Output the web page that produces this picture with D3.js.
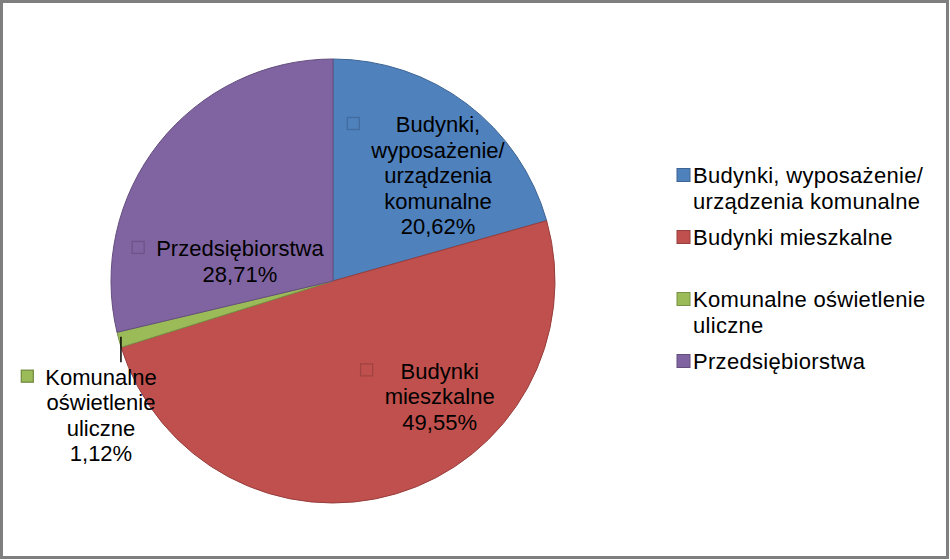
<!DOCTYPE html>
<html>
<head>
<meta charset="utf-8">
<script src="https://cdn.jsdelivr.net/npm/d3@7"></script>
<style>
  body { margin: 0; background: #fff; }
  svg text { font-family: "Liberation Sans", Arial, sans-serif; fill: #000; }
</style>
</head>
<body>
<script>
// chart data
const categories = [
    "Budynki, wyposażenie/ urządzenia komunalne",
    "Budynki mieszkalne",
    "Komunalne oświetlenie uliczne",
    "Przedsiębiorstwa"
]
const values = [20.62, 49.55, 1.12, 28.71]
const colors = ["#4F81BD", "#C0504D", "#9BBB59", "#8064A2"]

// how the texts wrap in the picture
const labelLines = [
    ["Budynki,", "wyposażenie/", "urządzenia", "komunalne"],
    ["Budynki", "mieszkalne"],
    ["Komunalne", "oświetlenie", "uliczne"],
    ["Przedsiębiorstwa"]
]
const legendLines = [
    ["Budynki, wyposażenie/", "urządzenia komunalne"],
    ["Budynki mieszkalne"],
    ["Komunalne oświetlenie", "uliczne"],
    ["Przedsiębiorstwa"]
]

// layout
const width = 950, height = 560
const cx = 333, cy = 281, radius = 222
const fontSize = 22
const lineH = 25.5
const keySize = 12
// shift of each data label block from the slice centroid
const labelShift = [[26, -17], [63, 9], [-137, 105], [-18, 49]]
const outside = [false, false, true, false]

const pl = d3.formatLocale({decimal: ",", thousands: " ", grouping: [3], currency: ["", " zł"]})
const pct = v => pl.format(".2f")(v) + "%"

const svg = d3.select("body").append("svg")
    .attr("width", width)
    .attr("height", height)

// chart frame
svg.append("rect")
    .attr("x", 1.5).attr("y", 1.5)
    .attr("width", width - 4).attr("height", height - 4)
    .attr("fill", "#fff")
    .attr("stroke", "#7F7F7F")
    .attr("stroke-width", 3)

const pie = d3.pie().sort(null).value(d => d)
const arcs = pie(values)
const arc = d3.arc().innerRadius(0).outerRadius(radius)

const g = svg.append("g").attr("transform", `translate(${cx},${cy})`)

g.selectAll("path.slice")
    .data(arcs)
    .join("path")
    .attr("class", "slice")
    .attr("d", arc)
    .attr("fill", (d, i) => colors[i])
    .attr("stroke", (d, i) => d3.color(colors[i]).darker(0.7))
    .attr("stroke-width", 1)

// data labels
arcs.forEach((d, i) => {
    const c = arc.centroid(d)
    const bx = c[0] + labelShift[i][0]
    const by = c[1] + labelShift[i][1]
    const lines = labelLines[i].concat([pct(values[i])])

    const lab = g.append("g")
    const txt = lab.append("g")
    lines.forEach((s, k) => {
        txt.append("text")
            .attr("font-size", fontSize)
            .attr("text-anchor", "middle")
            .attr("dy", "0.35em")
            .attr("y", k * lineH)
            .text(s)
    })
    // widest line decides the block width
    let maxW = 0
    txt.selectAll("text").each(function () {
        maxW = Math.max(maxW, this.getComputedTextLength())
    })
    const blockW = keySize + 12 + maxW
    const top = by - (lines.length - 1) * lineH / 2
    const left = bx - blockW / 2
    txt.attr("transform", `translate(${left + keySize + 12 + maxW / 2},${top})`)

    lab.append("rect")
        .attr("x", left)
        .attr("y", top - keySize / 2 - 1)
        .attr("width", keySize)
        .attr("height", keySize)
        .attr("fill", colors[i])
        .attr("stroke", d3.color(colors[i]).darker(outside[i] ? 0.8 : 0.5))
        .attr("stroke-width", 1.3)

    if (outside[i]) {
        const a = (d.startAngle + d.endAngle) / 2
        const ex = Math.sin(a) * radius + 2
        const ey = -Math.cos(a) * radius
        g.append("line")
            .attr("x1", ex).attr("y1", ey - 3)
            .attr("x2", ex).attr("y2", top - fontSize / 2 - 4)
            .attr("stroke", "#000")
            .attr("stroke-width", 1.5)
    }
})

// legend
const legX = 677, legY = 175, slotH = 62
const leg = svg.append("g")
legendLines.forEach((lines, i) => {
    const y0 = legY + i * slotH
    leg.append("rect")
        .attr("x", legX)
        .attr("y", y0 - 6.5)
        .attr("width", 13)
        .attr("height", 13)
        .attr("fill", colors[i])
        .attr("stroke", d3.color(colors[i]).darker(0.7))
        .attr("stroke-width", 1)
    lines.forEach((s, k) => {
        leg.append("text")
            .attr("x", legX + 16)
            .attr("y", y0 + k * 26)
            .attr("dy", "0.35em")
            .attr("font-size", fontSize)
            .attr("letter-spacing", 0.3)
            .text(s)
    })
})
</script>
</body>
</html>
